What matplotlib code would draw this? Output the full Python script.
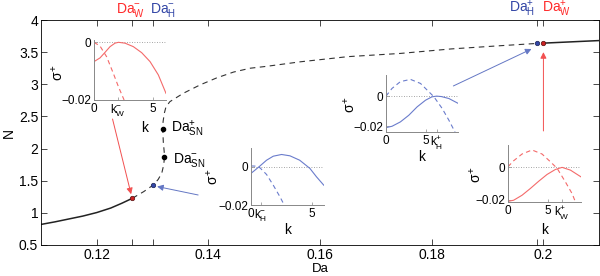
import matplotlib
matplotlib.use("Agg")
import matplotlib.pyplot as plt
import matplotlib.transforms as mtransforms

plt.rcParams['font.family'] = ['Liberation Sans', 'DejaVu Sans']
plt.rcParams['mathtext.fontset'] = 'custom'
plt.rcParams['mathtext.rm'] = 'Liberation Sans'
plt.rcParams['mathtext.it'] = 'Liberation Sans'
plt.rcParams['mathtext.bf'] = 'Liberation Sans:bold'
plt.rcParams['axes.unicode_minus'] = True

# ---------------- data ----------------
# main bifurcation curve (Da, N)
da_lower = [0.110, 0.1125, 0.115, 0.1175, 0.120, 0.1225, 0.1245, 0.12638]
n_lower = [0.82, 0.86, 0.905, 0.95, 1.005, 1.075, 1.15, 1.227]

da_mid = [0.12638, 0.1284, 0.13014, 0.1310, 0.13165, 0.13200, 0.13212, 0.13208,
          0.13192, 0.13182, 0.13188, 0.1321, 0.1324, 0.1331, 0.1355, 0.1385,
          0.1415, 0.1445, 0.1475, 0.1505, 0.1565, 0.165, 0.1744, 0.1835, 0.1923, 0.1988]
n_mid = [1.227, 1.33, 1.434, 1.52, 1.62, 1.75, 1.865, 1.95,
         2.10, 2.305, 2.42, 2.55, 2.65, 2.73, 2.86, 2.99,
         3.10, 3.19, 3.25, 3.28, 3.35, 3.43, 3.48, 3.55, 3.60, 3.635]

da_upper = [0.2000, 0.205, 0.210]
n_upper = [3.64, 3.66, 3.68]

# special points
da_w_minus, n_w_minus = 0.12638, 1.227
da_h_minus, n_h_minus = 0.13014, 1.434
da_sn_plus, n_sn_plus = 0.13182, 2.305
da_sn_minus, n_sn_minus = 0.13212, 1.865
da_h_plus, n_h_plus = 0.1988, 3.637
da_w_plus, n_w_plus = 0.2000, 3.640

main_xticks = [0.12, da_w_minus, da_h_minus, 0.14, 0.16, 0.18, da_h_plus, da_w_plus]
main_xticklabels = ['0.12', '', '', '0.14', '0.16', '0.18', '', '0.2']
main_yticks = [0.5, 1, 1.5, 2, 2.5, 3, 3.5, 4]
main_yticklabels = ['0.5', '1', '1.5', '2', '2.5', '3', '3.5', '4']

# inset 1 : W-  (red)
k1_solid = [0, 0.51, 0.93, 1.36, 1.78, 2.07, 2.63, 3.33, 4.04, 4.75, 5.45, 6.1]
s1_solid = [-0.0067, -0.0054, -0.0035, -0.0015, -0.0003, 0.0, -0.0003, -0.0015, -0.0036, -0.0067, -0.0113, -0.0177]
k1_dash = [0, 0.51, 1.07, 1.64, 2.07, 2.55]
s1_dash = [0.0, -0.0013, -0.0050, -0.0108, -0.0154, -0.0200]
k1_crit = 2.04

# inset 2 : H-  (blue)
k2_solid = [0, 0.33, 0.74, 1.28, 1.83, 2.51, 3.2, 4.0, 4.84, 5.38, 5.98]
s2_solid = [-0.0034, -0.0017, 0.0005, 0.0035, 0.0056, 0.0065, 0.0058, 0.0035, -0.0008, -0.0052, -0.0096]
k2_dash = [0, 0.33, 0.74, 1.28, 1.83, 2.38, 2.73]
s2_dash = [0.0005, 0.0004, -0.0005, -0.0040, -0.0096, -0.0157, -0.0200]
k2_crit = 0.8

# inset 3 : H+  (blue)
k3_solid = [0, 0.76, 1.82, 2.88, 3.94, 5.0, 5.8, 6.4, 7.0, 7.95, 9.15]
s3_solid = [-0.0209, -0.0200, -0.0171, -0.0127, -0.0071, -0.0027, -0.0005, 0.0, -0.0003, -0.0016, -0.0049]
k3_dash = [0, 0.76, 1.82, 3.09, 4.36, 5.2, 6.05, 7.1, 7.95, 8.72]
s3_dash = [0.0, 0.0051, 0.0096, 0.0111, 0.0084, 0.0040, -0.0004, -0.0082, -0.0160, -0.0238]
k3_crit = 6.4

# inset 4 : W+  (red)
k4_solid = [0, 0.71, 1.77, 2.82, 3.87, 4.92, 5.97, 6.82, 7.87, 9.2]
s4_solid = [-0.0211, -0.0204, -0.0173, -0.0131, -0.0086, -0.0044, -0.0013, 0.0, -0.0017, -0.0059]
k4_dash = [0, 0.71, 1.77, 3.03, 4.29, 5.34, 6.19, 7.23, 8.08, 8.5]
s4_dash = [0.0004, 0.0041, 0.0083, 0.0108, 0.0083, 0.0035, -0.0006, -0.0090, -0.0163, -0.0215]
k4_crit = 6.85

# ---------------- style ----------------
RED = '#ff2a2a'
BLUE = '#3346a6'
RED_L = '#f46a6a'
BLUE_L = '#6a7ccc'
RED_A = '#f25050'
BLUE_A = '#6477c4'
W, H = 600, 276

fig = plt.figure(figsize=(6.0, 2.76), dpi=100)

def px_rect(l, t, r, b):
    return [l / W, (H - b) / H, (r - l) / W, (b - t) / H]

ax = fig.add_axes(px_rect(41, 20, 599, 245))
ax.plot(da_lower, n_lower, color='#222222', lw=1.1)
ax.plot(da_mid, n_mid, color='#333333', lw=0.8, dashes=(5, 4))
ax.plot(da_upper, n_upper, color='#222222', lw=1.1)

ax.set_xlim(0.110, 0.210)
ax.set_ylim(0.5, 4.0)
ax.set_xticks(main_xticks)
ax.set_xticklabels(main_xticklabels)
ax.set_yticks(main_yticks)
ax.set_yticklabels(main_yticklabels)
ax.tick_params(direction='in', length=4, width=0.5, top=True, right=True, labelsize=10, pad=2)
for sp in ax.spines.values():
    sp.set_linewidth(0.6)
ax.set_xlabel('Da', fontsize=9.5, va='top')
ax.xaxis.set_label_coords(0.5, -0.08)
ax.set_ylabel('N', fontsize=10)
ax.yaxis.set_label_coords(-0.045, 0.5)

# dots
ax.plot([da_w_minus], [n_w_minus], 'o', ms=3.2, mfc='#cc2222', mec='#551111', mew=0.5, zorder=5)
ax.plot([da_h_minus], [n_h_minus], 'o', ms=3.2, mfc='#3346a6', mec='#1a2255', mew=0.5, zorder=5)
ax.plot([da_sn_plus, da_sn_minus], [n_sn_plus, n_sn_minus], 'o', ms=3.0, color='black', zorder=5)
ax.plot([da_h_plus], [n_h_plus], 'o', ms=3.2, mfc='#3346a6', mec='#1a2255', mew=0.5, zorder=5)
ax.plot([da_w_plus], [n_w_plus], 'o', ms=3.2, mfc='#cc2222', mec='#551111', mew=0.5, zorder=5)

ax.annotate(r'$\mathrm{Da}_{\mathrm{SN}}^{+}$', (da_sn_plus, n_sn_plus), xytext=(6, 0),
            textcoords='offset points', ha='left', va='center', fontsize=10)
ax.annotate(r'$\mathrm{Da}_{\mathrm{SN}}^{-}$', (da_sn_minus, n_sn_minus), xytext=(6, -2),
            textcoords='offset points', ha='left', va='center', fontsize=10)

# top labels
trans = mtransforms.blended_transform_factory(ax.transData, ax.transAxes)
ax.text(0.1260, 1.005, r'$\mathrm{Da}_{\mathrm{W}}^{-}$', color=RED, transform=trans, ha='center', va='bottom', fontsize=10)
ax.text(0.1318, 1.005, r'$\mathrm{Da}_{\mathrm{H}}^{-}$', color=BLUE, transform=trans, ha='center', va='bottom', fontsize=10)
ax.text(0.1986, 1.005, r'$\mathrm{Da}_{\mathrm{H}}^{+}$', color=BLUE, transform=trans, ha='right', va='bottom', fontsize=10)
ax.text(0.1997, 1.005, r'$\mathrm{Da}_{\mathrm{W}}^{+}$', color=RED, transform=trans, ha='left', va='bottom', fontsize=10)

# arrows (start points in data coords)
def arrow(start, end, color):
    ax.annotate('', xy=end, xytext=start,
                arrowprops=dict(arrowstyle='-|>', color=color, lw=0.7,
                                mutation_scale=9, shrinkA=0, shrinkB=0), zorder=4)

arrow((0.12282, 2.46), (0.12615, 1.29), RED_A)
arrow((0.13816, 1.278), (0.13081, 1.41), BLUE_A)
arrow((0.1839, 2.974), (0.1979, 3.549), BLUE_A)
arrow((0.20004, 2.274), (0.20004, 3.50), RED_A)

# ---------------- insets ----------------
def inset(rect, ks, ss, kd, sd, color, xlim, ylim, xticks, xticklabels,
          klabel=(0.5, -0.33), slabel=(-0.5, 0.47)):
    a = fig.add_axes(rect)
    a.plot([0, xlim[1]], [0, 0], color='#888888', lw=0.6, ls=(0, (1, 2)))
    a.plot(ks, ss, color=color, lw=0.8)
    a.plot(kd, sd, color=color, lw=0.8, dashes=(4, 3))
    a.set_xlim(*xlim)
    a.set_ylim(*ylim)
    a.set_xticks(xticks)
    a.set_xticklabels(xticklabels)
    a.set_yticks([-0.02, 0])
    a.set_yticklabels(['\u22120.02', '0'])
    a.spines['top'].set_visible(False)
    a.spines['right'].set_visible(False)
    for s in ('left', 'bottom'):
        a.spines[s].set_color('#888888')
        a.spines[s].set_linewidth(0.7)
    a.tick_params(direction='in', length=2, width=0.5, color='#888888', labelsize=8.5, pad=2)
    a.patch.set_alpha(0)
    a.set_xlabel('k', fontsize=10)
    a.xaxis.set_label_coords(*klabel)
    a.set_ylabel(r'$\sigma^{+}$', fontsize=10, va='center')
    a.yaxis.set_label_coords(*slabel)
    return a

inset(px_rect(94, 40, 166, 100), k1_solid, s1_solid, k1_dash, s1_dash, RED_L,
      (0, 6.1), (-0.02, 0.0008), [0, k1_crit, 5], ['0', r'$\mathrm{k}_{\mathrm{W}}^{-}$', '5'],
      klabel=(0.71, -0.35), slabel=(-0.51, 0.45))
inset(px_rect(251, 148, 324, 205), k2_solid, s2_solid, k2_dash, s2_dash, BLUE_L,
      (0, 6.0), (-0.02, 0.0099), [0, k2_crit, 5], ['0', r'$\mathrm{k}_{\mathrm{H}}^{-}$', '5'],
      klabel=(0.5, -0.31), slabel=(-0.52, 0.5))
inset(px_rect(386, 75, 458, 132), k3_solid, s3_solid, k3_dash, s3_dash, BLUE_L,
      (0, 9.1), (-0.0238, 0.014), [0, 5, k3_crit], ['0', '5', r'$\mathrm{k}_{\mathrm{H}}^{+}$'],
      klabel=(0.5, -0.32), slabel=(-0.5, 0.47))
inset(px_rect(508, 145, 581, 202), k4_solid, s4_solid, k4_dash, s4_dash, RED_L,
      (0, 9.2), (-0.0215, 0.0139), [0, 5, k4_crit], ['0', '5', r'$\mathrm{k}_{\mathrm{W}}^{+}$'],
      klabel=(0.5, -0.37), slabel=(-0.45, 0.47))

fig.savefig('out.png', dpi=100)
